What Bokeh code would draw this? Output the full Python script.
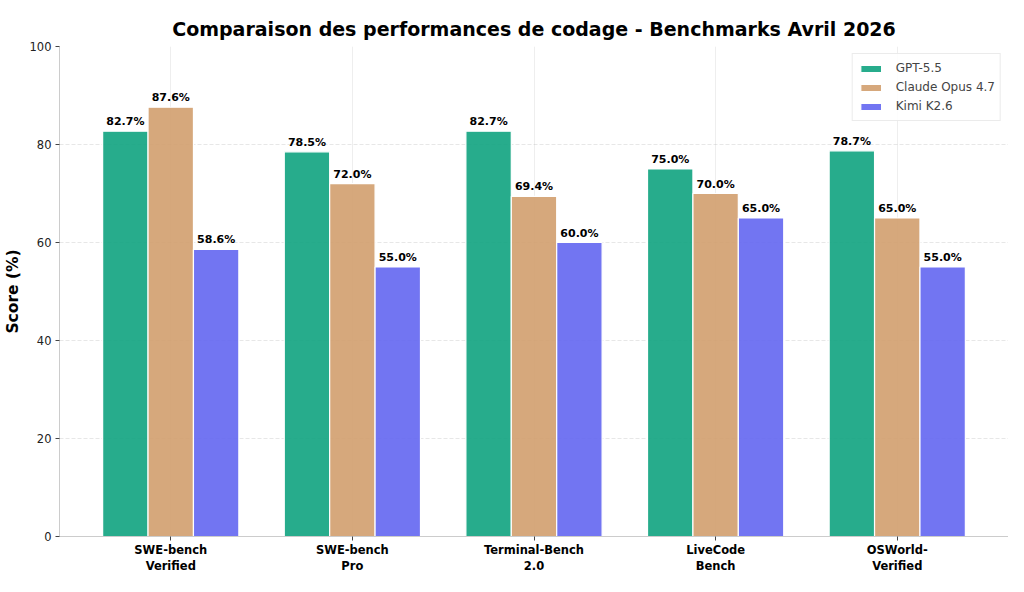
from bokeh.plotting import figure
from bokeh.models import ColumnDataSource, Range1d, FixedTicker, Legend, LegendItem
from bokeh.transform import dodge
from bokeh.core.properties import value
from bokeh.embed import file_html
from bokeh.resources import INLINE

categories = ["SWE-bench\nVerified", "SWE-bench\nPro", "Terminal-Bench\n2.0", "LiveCode\nBench", "OSWorld-\nVerified"]
models = ["GPT-5.5", "Claude Opus 4.7", "Kimi K2.6"]
gpt = [82.7, 78.5, 82.7, 75.0, 78.7]
claude = [87.6, 72.0, 69.4, 70.0, 65.0]
kimi = [58.6, 55.0, 60.0, 65.0, 55.0]
colors = ["#10A37F", "#D19F6E", "#6366F1"]
yticks = [0, 20, 40, 60, 80, 100]

FONT = "DejaVu Sans"
idx = list(range(len(categories)))
src = ColumnDataSource(dict(
    x=idx, gpt=gpt, claude=claude, kimi=kimi,
    gpt_l=[f"{v:.1f}%" for v in gpt],
    claude_l=[f"{v:.1f}%" for v in claude],
    kimi_l=[f"{v:.1f}%" for v in kimi],
))

p = figure(width=1008, height=576, x_range=Range1d(-0.6125, 4.6125), y_range=Range1d(0, 100),
           output_backend="svg", toolbar_location=None,
           min_border_left=56, min_border_right=0, min_border_top=46, min_border_bottom=30)

p.title.text = "Comparaison des performances de codage - Benchmarks Avril 2026"
p.title.align = "center"
p.title.vertical_align = "top"
p.title.text_font = FONT
p.title.text_font_size = "19px"
p.title.text_font_style = "bold"
p.title.text_color = "#000000"
p.title.standoff = 10

p.outline_line_color = None
p.background_fill_color = "white"

# grids
p.xgrid.ticker = FixedTicker(ticks=idx)
p.xgrid.grid_line_color = "#b0b0b0"
p.xgrid.grid_line_alpha = 0.22
p.ygrid.ticker = FixedTicker(ticks=yticks)
p.ygrid.grid_line_color = "#b0b0b0"
p.ygrid.grid_line_alpha = 0.3
p.ygrid.grid_line_dash = "4 2"

# axes
p.xaxis.ticker = FixedTicker(ticks=idx)
p.xaxis.major_label_overrides = {i: c for i, c in enumerate(categories)}
p.yaxis.ticker = FixedTicker(ticks=yticks)
for ax in (p.xaxis, p.yaxis):
    ax.axis_line_color = "#cccccc"
    ax.major_tick_line_color = "#444444"
    ax.major_tick_in = 0
    ax.major_tick_out = 4
    ax.minor_tick_line_color = None
    ax.major_label_text_font = FONT
    ax.major_label_text_color = "#222222"
    ax.major_label_standoff = 4
p.yaxis.major_label_text_font_size = "11.5px"
p.xaxis.major_label_text_font_size = "11.5px"
p.xaxis.major_label_text_font_style = "bold"
p.xaxis.major_label_text_color = "#000000"
p.xaxis.major_label_standoff = 2
p.yaxis.axis_label = "Score (%)"
p.yaxis.axis_label_text_font = FONT
p.yaxis.axis_label_text_font_size = "15.5px"
p.yaxis.axis_label_text_font_style = "bold"
p.yaxis.axis_label_text_color = "#000000"
p.yaxis.axis_label_standoff = 5

offsets = [-0.25, 0.0, 0.25]
fields = ["gpt", "claude", "kimi"]
items = []
for off, f, col, name in zip(offsets, fields, colors, models):
    r = p.vbar(x=dodge("x", off, range=p.x_range), top=f, width=0.25, source=src,
               fill_color=col, fill_alpha=0.9, line_color="white", line_width=1.2)
    items.append(LegendItem(label=name, renderers=[r]))
    p.text(x=dodge("x", off, range=p.x_range), y=f, text=f + "_l", source=src,
           text_align="center", text_baseline="bottom", y_offset=-3,
           text_font=value(FONT), text_font_size="11px", text_font_style="bold",
           text_color="#000000")

legend = Legend(items=items, location="top_right")
legend.label_text_font = FONT
legend.label_text_font_size = "12px"
legend.glyph_width = 26
legend.glyph_height = 9
legend.label_height = 18
legend.label_standoff = 12
legend.spacing = 1
legend.padding = 5
legend.margin = 7
legend.border_line_color = "#d8d8d8"
legend.background_fill_alpha = 0.85
p.add_layout(legend)

open("out.html", "w").write(file_html(p, INLINE))
